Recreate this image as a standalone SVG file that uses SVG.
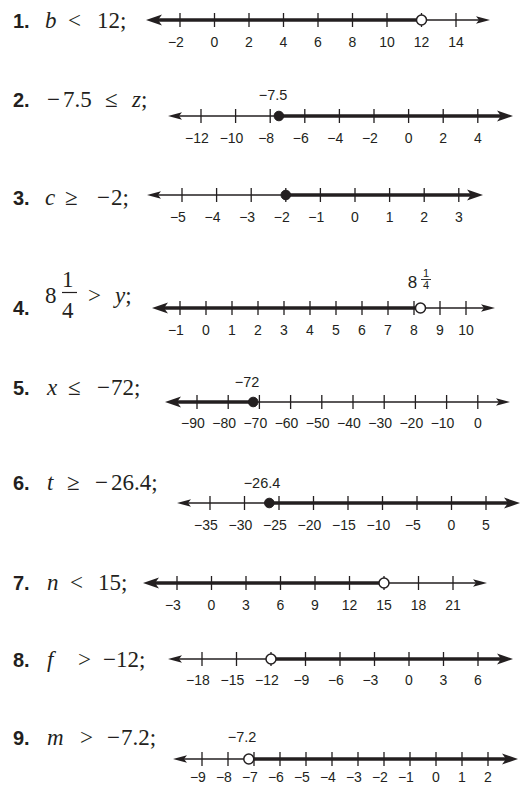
<svg xmlns="http://www.w3.org/2000/svg" width="532" height="786" viewBox="0 0 532 786">
<style>
.num{font-family:"Liberation Sans",Arial,sans-serif;font-weight:bold;font-size:20px;fill:#231f20}
.m{font-family:"Liberation Serif","Times New Roman",serif;font-size:23px;fill:#231f20}
.i{font-style:italic}
.lb{font-family:"Liberation Sans",Arial,sans-serif;font-size:14px;fill:#231f20}
.lb .e{text-anchor:end}
.lb .c{text-anchor:middle}
.ab{font-family:"Liberation Sans",Arial,sans-serif;font-size:14.5px;fill:#231f20;text-anchor:middle}
.thin{stroke:#231f20;stroke-width:1.3;fill:none;marker-end:url(#as)}
.thick{stroke:#231f20;stroke-width:3.6;fill:none;marker-end:url(#ab)}
.tk{stroke:#231f20;stroke-width:1.3;fill:none}
.open{fill:#fff;stroke:#231f20;stroke-width:1.5}
.fill{fill:#231f20;stroke:#231f20;stroke-width:1}
</style>
<defs>
<marker id="ab" markerUnits="userSpaceOnUse" markerWidth="20" markerHeight="14" refX="0" refY="0" orient="auto" overflow="visible"><path d="M10,0 L-6,-5.5 L-2,0 L-6,5.5 Z" fill="#231f20"/></marker>
<marker id="as" markerUnits="userSpaceOnUse" markerWidth="16" markerHeight="10" refX="0" refY="0" orient="auto" overflow="visible"><path d="M8,0 L-6,-3.8 L-3,0 L-6,3.8 Z" fill="#231f20"/></marker>
</defs>
<g id="connectors"></g>

<g id="p1">
<text class="num" x="13" y="28">1.</text>
<text class="m" y="28"><tspan class="i" x="45">b</tspan><tspan x="68">&lt;</tspan><tspan x="97">12;</tspan></text>
<path class="thick" d="M421.5,20 H156"/>
<path class="thin" d="M421.5,20 H482"/>
<path class="tk" d="M180,13v14M214.5,13v14M249,13v14M283.5,13v14M318,13v14M352.5,13v14M387,13v14M421.5,13v14M456,13v14"/>
<circle class="open" cx="421.5" cy="20" r="5"/>
<g class="lb"><text class="e" x="183.9" y="47">−2</text><text class="c" x="214.5" y="47">0</text><text class="c" x="249" y="47">2</text><text class="c" x="283.5" y="47">4</text><text class="c" x="318" y="47">6</text><text class="c" x="352.5" y="47">8</text><text class="c" x="387" y="47">10</text><text class="c" x="421.5" y="47">12</text><text class="c" x="456" y="47">14</text></g>
</g>

<g id="p2">
<text class="num" x="13" y="107">2.</text>
<text class="m" y="107"><tspan x="47">−</tspan><tspan x="63">7.5</tspan><tspan x="105">≤</tspan><tspan class="i" x="132">z</tspan><tspan>;</tspan></text>
<text class="ab" x="273" y="100">−7.5</text>
<path class="thin" d="M278.9,116 H176"/>
<path class="thick" d="M278.9,116 H503"/>
<path class="tk" d="M201,109v14M235.6,109v14M270.2,109v14M304.8,109v14M339.4,109v14M374,109v14M408.6,109v14M443.2,109v14M477.8,109v14"/>
<circle class="fill" cx="278.9" cy="116" r="4.8"/>
<g class="lb"><text class="e" x="208.8" y="143">−12</text><text class="e" x="243.4" y="143">−10</text><text class="e" x="274.1" y="143">−8</text><text class="e" x="308.7" y="143">−6</text><text class="e" x="343.3" y="143">−4</text><text class="e" x="377.9" y="143">−2</text><text class="c" x="408.6" y="143">0</text><text class="c" x="443.2" y="143">2</text><text class="c" x="477.8" y="143">4</text></g>
</g>

<g id="p3">
<text class="num" x="13" y="205">3.</text>
<text class="m" y="205"><tspan class="i" x="45">c</tspan><tspan x="65">≥</tspan><tspan x="97">−</tspan><tspan x="111">2;</tspan></text>
<path class="thin" d="M285.8,195 H155"/>
<path class="thick" d="M285.8,195 H473"/>
<path class="tk" d="M182,188v14M216.6,188v14M251.2,188v14M285.8,188v14M320.4,188v14M355,188v14M389.6,188v14M424.2,188v14M458.8,188v14"/>
<circle class="fill" cx="285.8" cy="195" r="4.8"/>
<g class="lb"><text class="e" x="185.9" y="222">−5</text><text class="e" x="220.5" y="222">−4</text><text class="e" x="255.1" y="222">−3</text><text class="e" x="289.7" y="222">−2</text><text class="e" x="324.3" y="222">−1</text><text class="c" x="355" y="222">0</text><text class="c" x="389.6" y="222">1</text><text class="c" x="424.2" y="222">2</text><text class="c" x="458.8" y="222">3</text></g>
</g>

<g id="p4">
<text class="num" x="13" y="315">4.</text>
<text class="m" x="45" y="303">8</text>
<text class="m" x="62" y="287">1</text>
<path d="M62,292.5 H77" stroke="#231f20" stroke-width="1.2"/>
<text class="m" x="62" y="318">4</text>
<text class="m" y="303"><tspan x="88">&gt;</tspan><tspan class="i" x="115">y</tspan><tspan>;</tspan></text>
<text class="ab" x="412.5" y="288" style="font-size:17px">8</text>
<text class="ab" x="426" y="277" style="font-size:11px">1</text>
<path d="M421,279.5 H431" stroke="#231f20" stroke-width="0.9"/>
<text class="ab" x="426" y="289" style="font-size:11px">4</text>
<path class="thick" d="M420.5,308 H162"/>
<path class="thin" d="M420.5,308 H487"/>
<path class="tk" d="M180,301v14M206,301v14M232,301v14M258,301v14M284,301v14M310,301v14M336,301v14M362,301v14M388,301v14M414,301v14M440,301v14M466,301v14"/>
<circle class="open" cx="420.5" cy="308" r="5"/>
<g class="lb"><text class="e" x="183.9" y="335">−1</text><text class="c" x="206" y="335">0</text><text class="c" x="232" y="335">1</text><text class="c" x="258" y="335">2</text><text class="c" x="284" y="335">3</text><text class="c" x="310" y="335">4</text><text class="c" x="336" y="335">5</text><text class="c" x="362" y="335">6</text><text class="c" x="388" y="335">7</text><text class="c" x="414" y="335">8</text><text class="c" x="440" y="335">9</text><text class="c" x="466" y="335">10</text></g>
</g>

<g id="p5">
<text class="num" x="13" y="395">5.</text>
<text class="m" y="395"><tspan class="i" x="47">x</tspan><tspan x="68">≤</tspan><tspan x="97">−</tspan><tspan x="111">72;</tspan></text>
<text class="ab" x="247" y="387">−72</text>
<path class="thick" d="M253.2,402 H175"/>
<path class="thin" d="M253.2,402 H502"/>
<path class="tk" d="M197,395v14M228.2,395v14M259.4,395v14M290.6,395v14M321.8,395v14M353,395v14M384.2,395v14M415.4,395v14M446.6,395v14M477.8,395v14"/>
<circle class="fill" cx="253.2" cy="402" r="4.8"/>
<g class="lb"><text class="e" x="204.8" y="428">−90</text><text class="e" x="236" y="428">−80</text><text class="e" x="267.2" y="428">−70</text><text class="e" x="298.4" y="428">−60</text><text class="e" x="329.6" y="428">−50</text><text class="e" x="360.8" y="428">−40</text><text class="e" x="392" y="428">−30</text><text class="e" x="423.2" y="428">−20</text><text class="e" x="454.4" y="428">−10</text><text class="c" x="477.8" y="428">0</text></g>
</g>

<g id="p6">
<text class="num" x="13" y="490">6.</text>
<text class="m" y="490"><tspan class="i" x="47">t</tspan><tspan x="67">≥</tspan><tspan x="95">−</tspan><tspan x="111">26.4;</tspan></text>
<text class="ab" x="262" y="488">−26.4</text>
<path class="thin" d="M269.3,503 H185"/>
<path class="thick" d="M269.3,503 H510"/>
<path class="tk" d="M210,496v14M244.5,496v14M279,496v14M313.5,496v14M348,496v14M382.5,496v14M417,496v14M451.5,496v14M486,496v14"/>
<circle class="fill" cx="269.3" cy="503" r="4.8"/>
<g class="lb"><text class="e" x="217.8" y="530">−35</text><text class="e" x="252.3" y="530">−30</text><text class="e" x="286.8" y="530">−25</text><text class="e" x="321.3" y="530">−20</text><text class="e" x="355.8" y="530">−15</text><text class="e" x="390.3" y="530">−10</text><text class="e" x="420.9" y="530">−5</text><text class="c" x="451.5" y="530">0</text><text class="c" x="486" y="530">5</text></g>
</g>

<g id="p7">
<text class="num" x="13" y="590">7.</text>
<text class="m" y="590"><tspan class="i" x="47">n</tspan><tspan x="70">&lt;</tspan><tspan x="98">15;</tspan></text>
<path class="thick" d="M384,583 H153"/>
<path class="thin" d="M384,583 H479"/>
<path class="tk" d="M177,576v14M211.5,576v14M246,576v14M280.5,576v14M315,576v14M349.5,576v14M384,576v14M418.5,576v14M453,576v14"/>
<circle class="open" cx="384" cy="583" r="5"/>
<g class="lb"><text class="e" x="180.9" y="610">−3</text><text class="c" x="211.5" y="610">0</text><text class="c" x="246" y="610">3</text><text class="c" x="280.5" y="610">6</text><text class="c" x="315" y="610">9</text><text class="c" x="349.5" y="610">12</text><text class="c" x="384" y="610">15</text><text class="c" x="418.5" y="610">18</text><text class="c" x="453" y="610">21</text></g>
</g>

<g id="p8">
<text class="num" x="13" y="667">8.</text>
<text class="m" y="667"><tspan class="i" x="47">f</tspan><tspan x="78">&gt;</tspan><tspan x="103">−</tspan><tspan x="116">12;</tspan></text>
<path class="thin" d="M271,659 H176"/>
<path class="thick" d="M271,659 H503"/>
<path class="tk" d="M202,652v14M236.5,652v14M271,652v14M305.5,652v14M340,652v14M374.5,652v14M409,652v14M443.5,652v14M478,652v14"/>
<circle class="open" cx="271" cy="659" r="5"/>
<g class="lb"><text class="e" x="209.8" y="685">−18</text><text class="e" x="244.3" y="685">−15</text><text class="e" x="278.8" y="685">−12</text><text class="e" x="309.4" y="685">−9</text><text class="e" x="343.9" y="685">−6</text><text class="e" x="378.4" y="685">−3</text><text class="c" x="409" y="685">0</text><text class="c" x="443.5" y="685">3</text><text class="c" x="478" y="685">6</text></g>
</g>

<g id="p9">
<text class="num" x="13" y="745">9.</text>
<text class="m" y="745"><tspan class="i" x="47">m</tspan><tspan x="80">&gt;</tspan><tspan x="107">−</tspan><tspan x="121">7.2;</tspan></text>
<text class="ab" x="242" y="742">−7.2</text>
<path class="thin" d="M248.8,759 H181"/>
<path class="thick" d="M248.8,759 H508"/>
<path class="tk" d="M202,752v14M228,752v14M254,752v14M280,752v14M306,752v14M332,752v14M358,752v14M384,752v14M410,752v14M436,752v14M462,752v14M488,752v14"/>
<circle class="open" cx="248.8" cy="759" r="5"/>
<g class="lb"><text class="e" x="205.9" y="782">−9</text><text class="e" x="231.9" y="782">−8</text><text class="e" x="257.9" y="782">−7</text><text class="e" x="283.9" y="782">−6</text><text class="e" x="309.9" y="782">−5</text><text class="e" x="335.9" y="782">−4</text><text class="e" x="361.9" y="782">−3</text><text class="e" x="387.9" y="782">−2</text><text class="e" x="413.9" y="782">−1</text><text class="c" x="436" y="782">0</text><text class="c" x="462" y="782">1</text><text class="c" x="488" y="782">2</text></g>
</g>
</svg>
